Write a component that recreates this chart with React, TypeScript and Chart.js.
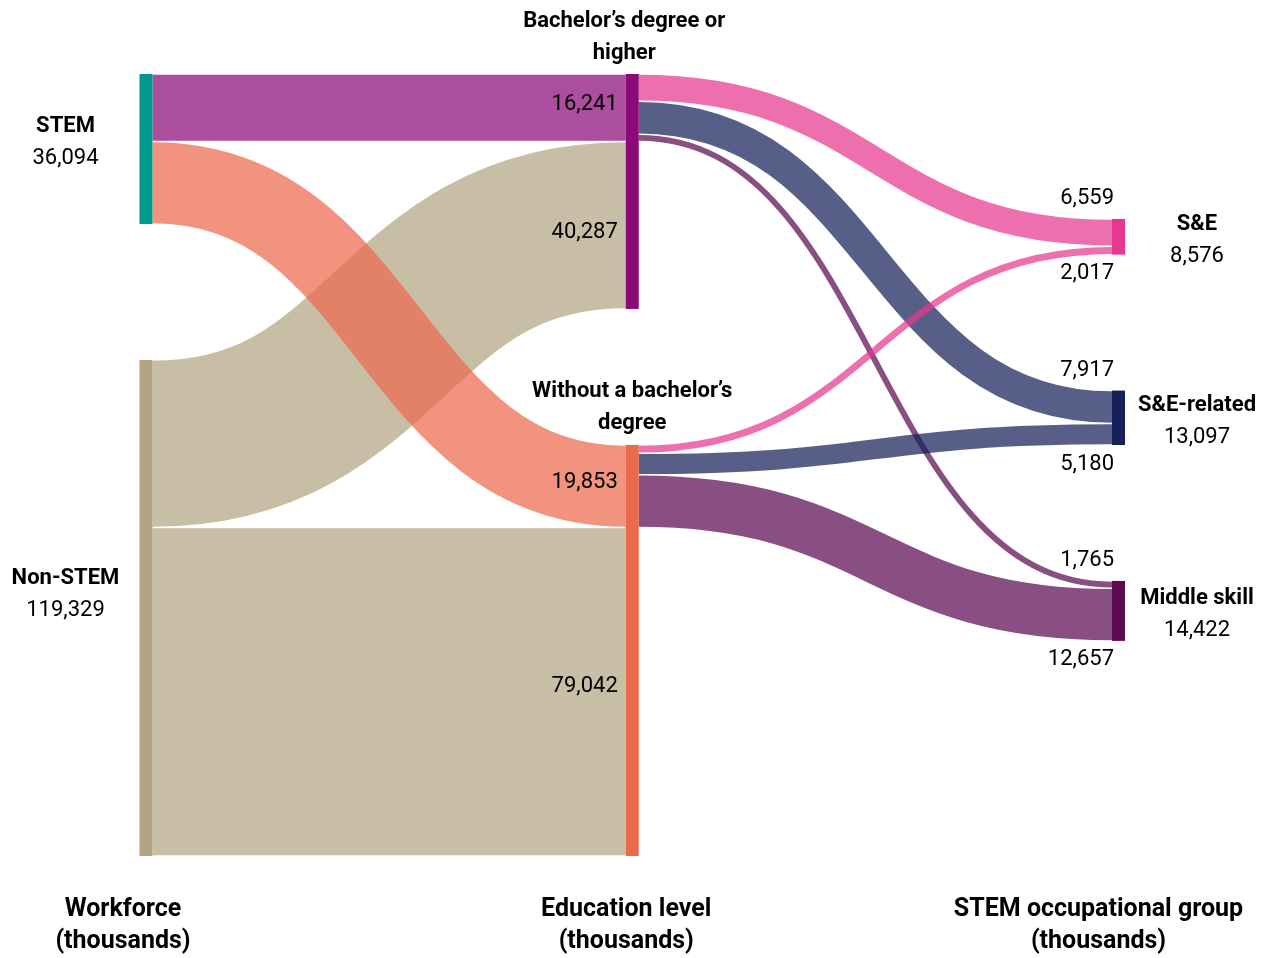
import React, { useEffect, useRef } from "react";
import Chart from "chart.js/auto";

// ---------- Data ----------
const workforceGroups = ["STEM", "Non-STEM"];
const educationLevels = [
  ["Bachelor’s degree or", "higher"],
  ["Without a bachelor’s", "degree"],
];
const occupationGroups = ["S&E", "S&E-related", "Middle skill"];
// rows: STEM, Non-STEM ; cols: Bachelor's or higher, Without a bachelor's
const workforceToEducation = [
  [16241, 19853],
  [40287, 79042],
];
// rows: Bachelor's or higher (STEM part), Without a bachelor's ; cols: S&E, S&E-related, Middle skill
const educationToOccupation = [
  [6559, 7917, 1765],
  [2017, 5180, 12657],
];
const columnTitles = [
  ["Workforce", "(thousands)"],
  ["Education level", "(thousands)"],
  ["STEM occupational group", "(thousands)"],
];

// ---------- Styles / layout ----------
const workforceColors = ["#009990", "#b3a382"];
const educationColors = ["#8c0a78", "#ec6a4c"];
const occupationColors = ["#e8378f", "#16215a", "#5c0a52"];
const LINK_ALPHA = 0.72;
const NODE_W = 13;
const NODE_GAP = 32700; // in value units
const RIGHT_OFFSET = 34880; // in value units
const FONT = "Roboto, 'Noto Sans', sans-serif";
const TY = 3; // text vertical nudge

const sum = (a: number[]) => a.reduce((s, v) => s + v, 0);

function rgba(hex: string, a: number) {
  const n = parseInt(hex.slice(1), 16);
  return `rgba(${(n >> 16) & 255},${(n >> 8) & 255},${n & 255},${a})`;
}
function fmt(v: number) {
  return v.toLocaleString("en-US");
}

const sankeyPlugin = {
  id: "sankeyDraw",
  afterDatasetsDraw(chart: any) {
    const ctx: CanvasRenderingContext2D = chart.ctx;
    const xs = chart.scales.x;
    const ys = chart.scales.y;
    const px = (c: number) => xs.getPixelForValue(c);
    const py = (v: number) => ys.getPixelForValue(v);
    const hh = (v: number) => py(v) - py(0);

    // node totals
    const wfTotals = workforceToEducation.map((r) => sum(r));
    const edTotals = educationLevels.map((_, j) => sum(workforceToEducation.map((r) => r[j])));
    const occTotals = occupationGroups.map((_, k) => sum(educationToOccupation.map((r) => r[k])));

    // node tops (value units)
    const wfTops: number[] = [];
    let acc = 0;
    wfTotals.forEach((t) => { wfTops.push(acc); acc += t + NODE_GAP; });
    const edTops: number[] = [];
    acc = 0;
    edTotals.forEach((t) => { edTops.push(acc); acc += t + NODE_GAP; });
    const occTops: number[] = [];
    acc = RIGHT_OFFSET;
    occTotals.forEach((t) => { occTops.push(acc); acc += t + NODE_GAP; });

    const drawLink = (c0: number, sTop: number, c1: number, tTop: number, v: number, color: string) => {
      const x0 = px(c0) + NODE_W / 2;
      const x1 = px(c1) - NODE_W / 2;
      const y0 = py(sTop + v / 2);
      const y1 = py(tTop + v / 2);
      const xm = (x0 + x1) / 2;
      ctx.save();
      ctx.beginPath();
      ctx.moveTo(x0, y0);
      ctx.bezierCurveTo(xm, y0, xm, y1, x1, y1);
      ctx.lineWidth = Math.max(1, hh(v) - 1.5);
      ctx.strokeStyle = color;
      ctx.lineCap = "butt";
      ctx.stroke();
      ctx.restore();
    };

    // left links: compute offsets
    const wfOut = wfTops.slice();
    const edIn = edTops.slice();
    const leftLinks: any[] = [];
    workforceToEducation.forEach((row, i) => {
      row.forEach((v, j) => {
        const color = i === 0 ? educationColors[j] : workforceColors[i];
        leftLinks.push({ s: wfOut[i], t: edIn[j], v, color, i, j });
        wfOut[i] += v;
        edIn[j] += v;
      });
    });
    // draw Non-STEM first, then STEM on top
    [...leftLinks.filter((l) => l.i === 1), ...leftLinks.filter((l) => l.i === 0)].forEach((l) =>
      drawLink(0, l.s, 1, l.t, l.v, rgba(l.color, LINK_ALPHA))
    );

    // right links
    const edOut = edTops.slice();
    const occIn = occTops.slice();
    const rightLinks: any[] = [];
    educationToOccupation.forEach((row, j) => {
      row.forEach((v, k) => {
        rightLinks.push({ s: edOut[j], t: occIn[k], v, color: occupationColors[k], j, k });
        edOut[j] += v;
        occIn[k] += v;
      });
    });
    rightLinks.forEach((l) => drawLink(1, l.s, 2, l.t, l.v, rgba(l.color, LINK_ALPHA)));

    // nodes
    const drawNode = (c: number, top: number, v: number, color: string) => {
      ctx.fillStyle = color;
      ctx.fillRect(px(c) - NODE_W / 2, py(top), NODE_W, hh(v));
    };
    wfTotals.forEach((t, i) => drawNode(0, wfTops[i], t, workforceColors[i]));
    edTotals.forEach((t, j) => drawNode(1, edTops[j], t, educationColors[j]));
    occTotals.forEach((t, k) => drawNode(2, occTops[k], t, occupationColors[k]));

    // text
    const bold = `bold 22px ${FONT}`;
    const reg = `22px ${FONT}`;
    ctx.fillStyle = "#000";
    ctx.textBaseline = "middle";

    // left node labels
    const leftNameDy = [-26, -32];
    ctx.textAlign = "center";
    workforceGroups.forEach((name, i) => {
      const cx = px(0) - NODE_W / 2 - 74;
      const cy = py(wfTops[i] + wfTotals[i] / 2) + leftNameDy[i] + TY;
      ctx.font = bold;
      ctx.fillText(name, cx, cy);
      ctx.font = reg;
      ctx.fillText(fmt(wfTotals[i]), cx, cy + 32);
    });

    // middle node titles
    const midDx = [-8, 0];
    educationLevels.forEach((lines, j) => {
      const cx = px(1) + midDx[j];
      const top = py(edTops[j]);
      ctx.font = bold;
      ctx.fillText(lines[0], cx, top - 56 + TY);
      ctx.fillText(lines[1], cx, top - 24 + TY);
    });

    // middle incoming link values
    ctx.textAlign = "right";
    ctx.font = reg;
    const midValDy = [-6, 4, -7, -8];
    const leftOrdered = [...leftLinks].sort((a, b) => a.j - b.j || a.i - b.i);
    leftOrdered.forEach((l, n) => {
      const cy = py(l.t + l.v / 2) + midValDy[n] + TY;
      ctx.fillText(fmt(l.v), px(1) - NODE_W / 2 - 8, cy);
    });

    // right incoming link values (first above, last below)
    occupationGroups.forEach((_, k) => {
      const inc = rightLinks.filter((l) => l.k === k);
      const x = px(2) - NODE_W / 2 + 2;
      ctx.fillText(fmt(inc[0].v), x, py(occTops[k]) - 23 + TY);
      ctx.fillText(fmt(inc[inc.length - 1].v), x, py(occTops[k] + occTotals[k]) + 16 + TY);
    });

    // right node labels
    ctx.textAlign = "center";
    occupationGroups.forEach((name, k) => {
      const cx = px(2) + NODE_W / 2 + 72;
      const cy = py(occTops[k] + occTotals[k] / 2) - 15 + TY;
      ctx.font = bold;
      ctx.fillText(name, cx, cy);
      ctx.font = reg;
      ctx.fillText(fmt(occTotals[k]), cx, cy + 32);
    });

    // column titles
    const titleDx = [-23, -6, -20];
    ctx.font = `bold 25px ${FONT}`;
    columnTitles.forEach((lines, c) => {
      const cx = px(c) + titleDx[c];
      const base = chart.chartArea.bottom;
      ctx.fillText(lines[0], cx, base + 54);
      ctx.fillText(lines[1], cx, base + 86);
    });
  },
};

export default function App() {
  const ref = useRef<HTMLCanvasElement | null>(null);
  useEffect(() => {
    if (!ref.current) return;
    const yMax = sum(workforceToEducation.map((r) => sum(r))) + NODE_GAP * (workforceGroups.length - 1);
    const chart = new Chart(ref.current, {
      type: "scatter",
      data: { datasets: [{ data: [], pointRadius: 0 }] },
      options: {
        animation: false,
        responsive: false,
        maintainAspectRatio: false,
        devicePixelRatio: 1,
        layout: { padding: { left: 146, right: 148.5, top: 74, bottom: 102 } },
        scales: {
          x: { type: "linear", min: 0, max: 2, display: false },
          y: { type: "linear", min: 0, max: yMax, reverse: true, display: false },
        },
        plugins: { legend: { display: false }, tooltip: { enabled: false }, title: { display: false } },
        events: [],
      },
      plugins: [sankeyPlugin],
    } as any);
    return () => chart.destroy();
  }, []);
  return (
    <div style={{ position: "absolute", left: 0, top: 0, width: 1267, height: 958, background: "#fff" }}>
      <canvas ref={ref} width={1267} height={958} style={{ display: "block", width: 1267, height: 958 }} />
    </div>
  );
}
